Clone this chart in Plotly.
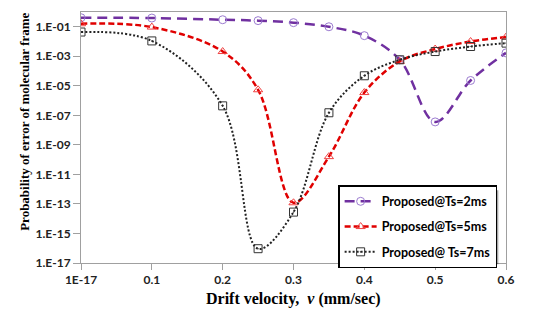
"""
Probabilité d'erreur de trame moléculaire en fonction de la vitesse de dérive
"""

import plotly.graph_objects as go

# Données
drift_velocity = [0, 0.1, 0.2, 0.25, 0.3, 0.35, 0.4, 0.45, 0.5, 0.55, 0.6]
p_err_ts2 = [4.1e-01, 3.9e-01, 3.0e-01, 2.6e-01, 1.9e-01, 1.0e-01, 2.5e-02, 5.8e-04, 3.6e-08, 2.3e-05, 1.7e-03]
p_err_ts5 = [1.6e-01, 9.5e-02, 2.1e-03, 5.4e-06, 1.2e-13, 1.6e-10, 3.5e-06, 4.5e-04, 3.1e-03, 1.0e-02, 2.0e-02]
p_err_ts7 = [4.4e-02, 1.1e-02, 4.4e-07, 9.3e-17, 2.8e-14, 1.5e-07, 4.8e-05, 5.8e-04, 2.1e-03, 4.6e-03, 7.8e-03]

x_tickvals = [0, 0.1, 0.2, 0.3, 0.4, 0.5, 0.6]
x_ticktext = ['1E-17', '0.1', '0.2', '0.3', '0.4', '0.5', '0.6']
y_tickvals = [1e-17, 1e-15, 1e-13, 1e-11, 1e-09, 1e-07, 1e-05, 1e-03, 1e-01]
y_ticktext = ['1.E-17', '1.E-15', '1.E-13', '1.E-11', '1.E-09', '1.E-07', '1.E-05', '1.E-03', '1.E-01']

series = [
    ('Proposed@Ts=2ms', p_err_ts2, '#7030A0', '#9B7BD0', '10px,6px', 'circle-open', 2.5),
    ('Proposed@Ts=5ms', p_err_ts5, '#E00000', '#F04040', '6px,3px', 'triangle-up-open', 2.5),
    ('Proposed@ Ts=7ms', p_err_ts7, '#222222', '#333333', '2px,2px', 'square-open-dot', 2),
]

fig = go.Figure()

for name, values, line_col, mk_col, dash, symbol, width in series:
    fig.add_trace(go.Scatter(
        x=drift_velocity,
        y=values,
        name=name,
        legendgroup=name,
        mode='lines+markers',
        line=dict(color=line_col, width=width, dash=dash, shape='spline', smoothing=1.0),
        marker=dict(symbol=symbol, size=8, color=mk_col, line=dict(width=1, color=mk_col)),
    ))

# ombre de la légende
fig.add_shape(type='rect', xref='paper', yref='paper',
              x0=0.615, x1=0.982, y0=-0.005, y1=0.29,
              fillcolor='rgba(0,0,0,0.35)', line=dict(width=0), layer='above')

title_font = dict(family='Liberation Serif', color='black', weight='bold')
tick_font = dict(family='Lato', size=12, color='#222222', weight='bold')

fig.update_layout(
    width=553,
    height=322,
    # la page html ajoute 8px de marge autour du graphique
    margin=dict(l=73, r=55, t=4, b=67),
    template='plotly_white',
    plot_bgcolor='white',
    paper_bgcolor='white',
    showlegend=True,
    legend=dict(
        x=0.605, y=0.31, xanchor='left', yanchor='top',
        bgcolor='white', bordercolor='black', borderwidth=1.5,
        font=dict(family='Lato', size=12.5, color='black', weight='bold'),
        itemwidth=32, tracegroupgap=6, traceorder='grouped',
    ),
    xaxis=dict(
        range=[0, 0.6],
        tickvals=x_tickvals, ticktext=x_ticktext,
        showgrid=False, zeroline=False,
        showline=True, linecolor='#A0A0A0', linewidth=1, mirror=True,
        ticks='outside', ticklen=6, tickcolor='#A0A0A0',
        tickfont=tick_font,
        automargin=False,
    ),
    yaxis=dict(
        type='log',
        range=[-17, 0],
        tickvals=y_tickvals, ticktext=y_ticktext,
        showgrid=False, zeroline=False,
        showline=True, linecolor='#A0A0A0', linewidth=1, mirror=True,
        ticks='outside', ticklen=7, tickcolor='#A0A0A0',
        tickfont=tick_font,
        automargin=False,
    ),
    annotations=[
        dict(text='Drift velocity,  <i>v</i> (mm/sec)', xref='paper', yref='paper',
             x=0.5, y=-0.145, xanchor='center', yanchor='middle', showarrow=False,
             font=dict(size=16, **title_font)),
        dict(text='Probability of error of molecular frame', xref='paper', yref='paper',
             x=-0.132, y=0.562, xanchor='center', yanchor='middle', showarrow=False,
             textangle=-90, font=dict(size=13, **title_font)),
    ],
)

fig.write_html("out.html")
